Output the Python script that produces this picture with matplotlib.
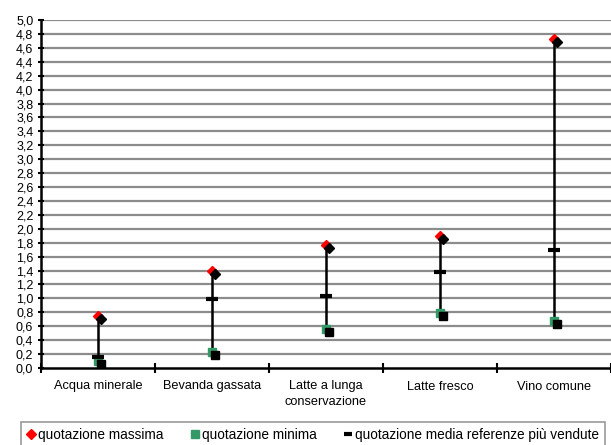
import matplotlib
matplotlib.use('Agg')
import matplotlib.pyplot as plt
import matplotlib.transforms as mtransforms
from matplotlib.lines import Line2D

plt.rcParams['font.family'] = ['Liberation Sans', 'DejaVu Sans']

# data
categories = ['Acqua minerale', 'Bevanda gassata', 'Latte a lunga\nconservazione',
              'Latte fresco', 'Vino comune']
q_max = [0.74, 1.40, 1.77, 1.90, 4.73]
q_min = [0.10, 0.23, 0.56, 0.79, 0.68]
q_media = [0.16, 0.99, 1.03, 1.38, 1.70]
y_ticks = [i / 5 for i in range(26)]

fig = plt.figure(figsize=(6.11, 4.45), dpi=100)
ax = fig.add_axes([41 / 611, 77 / 445, 570 / 611, 348 / 445])

x = list(range(len(categories)))

# gridlines
for v in y_ticks[1:]:
    ax.axhline(v, color='#8c8c8c', lw=1.6, zorder=0)

# high-low lines
ax.vlines(x, q_min, q_max, color='black', lw=1.8, zorder=2)

# coloured markers, then their black shadows offset down-right
shadow = mtransforms.offset_copy(ax.transData, fig=fig, x=2.5, y=-3, units='dots')
ax.plot(x, q_max, ls='none', marker='D', ms=5.3, color='#ff0000', mec='#ff0000', zorder=3)
ax.plot(x, q_min, ls='none', marker='s', ms=6, color='#339966', mec='#339966', zorder=3)
ax.plot(x, q_max, ls='none', marker='D', ms=5.3, color='black', transform=shadow, zorder=4)
ax.plot(x, q_min, ls='none', marker='s', ms=6, color='black', transform=shadow, zorder=4)
ax.plot(x, q_media, ls='none', marker='_', ms=9, mew=3, color='black', zorder=5)

ax.set_xlim(-0.5, len(categories) - 0.5)
ax.set_ylim(0, 5.0)
ax.set_yticks(y_ticks)
ax.set_yticklabels([f'{v:.1f}'.replace('.', ',') for v in y_ticks], fontsize=9)
ax.tick_params(axis='y', direction='inout', length=5, width=1.5, pad=3)

ax.set_xticks([i - 0.5 for i in range(len(categories) + 1)])
ax.set_xticklabels([])
ax.set_xticks(x, minor=True)
ax.set_xticklabels(categories, minor=True, fontsize=9.2, linespacing=1.35)
ax.tick_params(axis='x', which='major', direction='inout', length=7, width=1.5)
ax.tick_params(axis='x', which='minor', length=0, pad=9)

for s in ['top', 'right']:
    ax.spines[s].set_visible(False)
for s in ['left', 'bottom']:
    ax.spines[s].set_linewidth(1.8)
    ax.spines[s].set_zorder(6)

handles = [
    Line2D([], [], ls='none', marker='D', ms=5.5, color='#ff0000'),
    Line2D([], [], ls='none', marker='s', ms=6, color='#339966'),
    Line2D([], [], ls='none', marker='_', ms=6, mew=3, color='black'),
]
labels = ['quotazione massima', 'quotazione minima', 'quotazione media referenze più vendute']
leg_top = 1 - 422 / 445
leg = fig.legend(handles, labels, loc='upper left',
                 bbox_to_anchor=(21 / 611, leg_top - 0.06, 584 / 611, 0.06), mode='expand',
                 ncol=3, fontsize=9.8, frameon=True, fancybox=False, edgecolor='#808080',
                 handlelength=0.6, handletextpad=0.2, columnspacing=1.0,
                 borderpad=0.45, borderaxespad=0)
leg.get_frame().set_linewidth(1.2)

fig.savefig('out.png', dpi=100)
